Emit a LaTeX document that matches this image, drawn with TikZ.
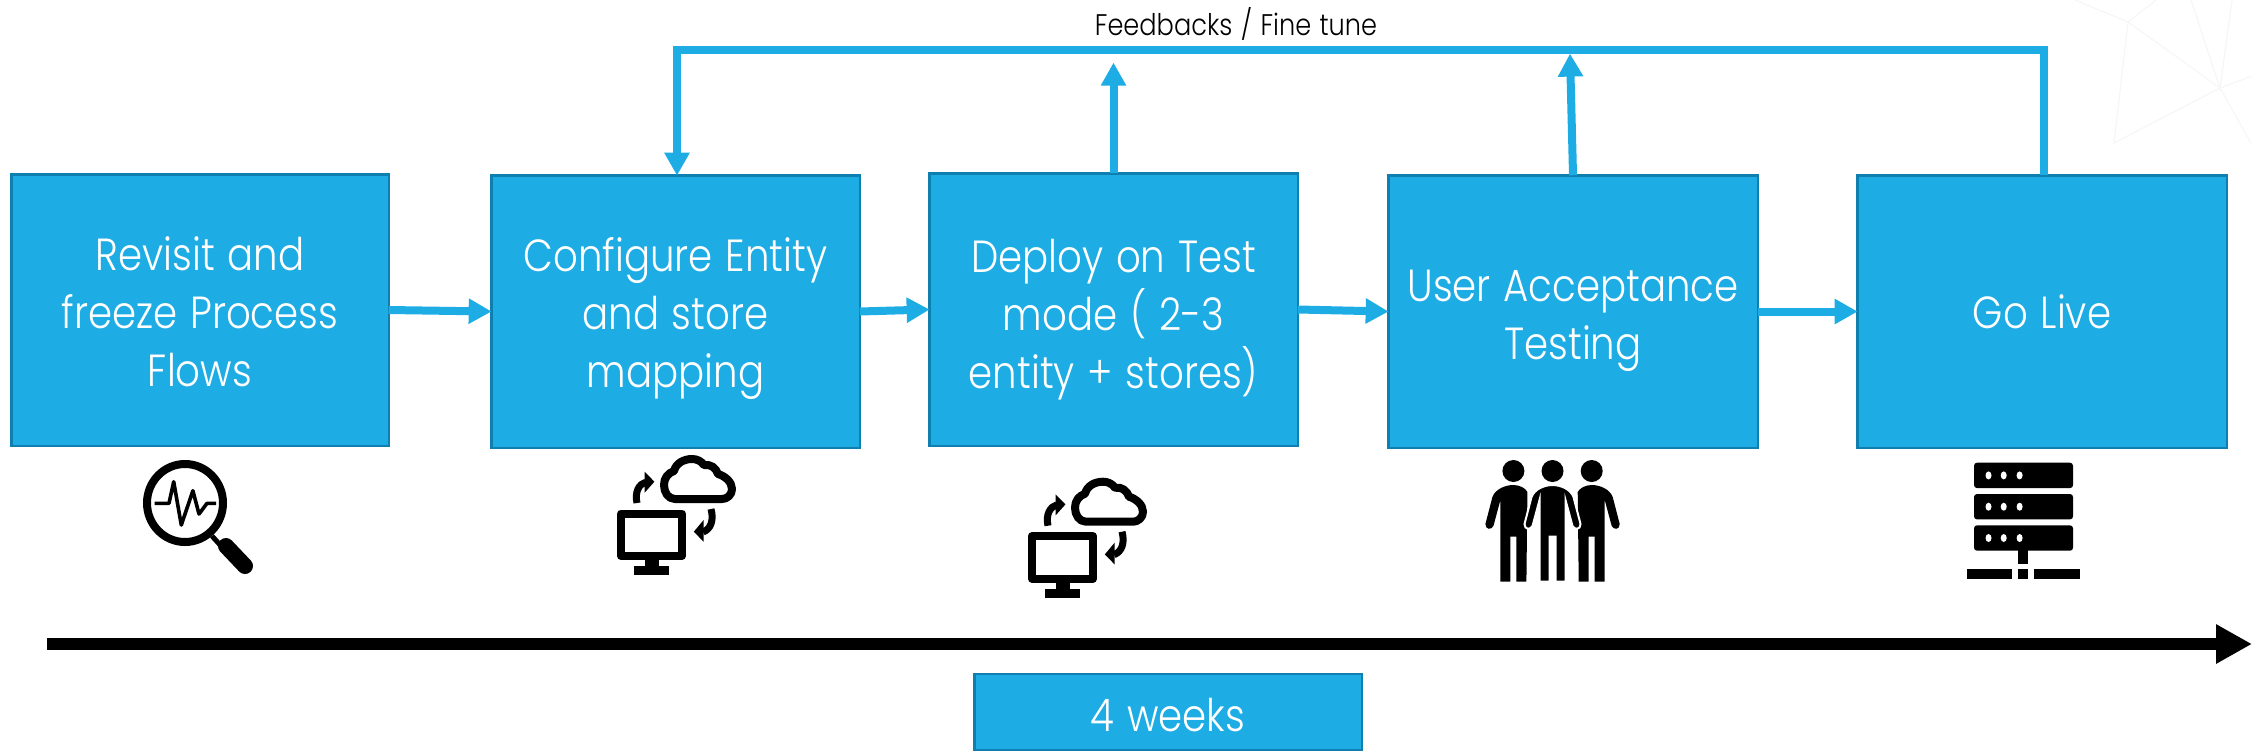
\documentclass[tikz,border=0pt]{standalone}
\usepackage{fontspec}
\setmainfont{Poppins}[UprightFont=* Light,FakeStretch=0.86,WordSpace=1.2]
\usetikzlibrary{arrows.meta,calc}
\definecolor{boxfill}{HTML}{1EACE4}
\definecolor{boxline}{HTML}{0F7FAF}
\definecolor{faint}{HTML}{F6F6F6}
\newcommand{\dropby}[1]{\rule{0pt}{\dimexpr 16.6pt+2\dimexpr #1\relax\relax}}
\tikzset{
  x=0.5pt,y=-0.5pt,
  stagebox/.style={draw=boxline,fill=boxfill,line width=1.25pt,outer sep=0pt,inner sep=0pt,
    text=white,align=center,font=\fontsize{22.5}{29}\selectfont},
  flow/.style={draw=boxfill,line width=4pt,-{Triangle[length=11.5pt,width=12pt]},shorten >=-0.2pt},
  fback/.style={draw=boxfill,line width=4pt,miter limit=10},
  timeline/.style={draw=black,line width=6pt,-{Triangle[length=18pt,width=18.5pt]}},
  cloudpc/.pic={
    \draw[line width=4pt,line join=round]
      (675,499) .. controls (668,499) and (664,492) .. (664,485)
      .. controls (664,478) and (668,473) .. (674,471)
      .. controls (676,463) and (684,459) .. (692,459)
      .. controls (697,459) and (701,461) .. (704,465)
      .. controls (711,464) and (716,468) .. (718,474)
      .. controls (725,476) and (732,482) .. (732,489)
      .. controls (732,495) and (727,499) .. (722,499) -- cycle;
    \draw[line width=4pt,line join=round] (621,513.5) rectangle (682,556);
    \fill (645,560) rectangle (659,566);
    \fill (634,566) rectangle (669,575);
    \draw[line width=3.5pt] (637,503) .. controls (634.5,492) and (639,484) .. (646,482);
    \fill (644.6,471.7) -- (654.4,481.7) -- (644.6,492.7) -- cycle;
    \draw[line width=3.5pt] (711,509) .. controls (714,520) and (711,529) .. (703,532);
    \fill (703.6,520) -- (693.8,531.7) -- (703.6,541.7) -- cycle;
  },
  personfull/.pic={
    \path[pic actions]
      (-21,497) .. controls (-18,489) and (-8,485) .. (0,485)
      .. controls (8,485) and (18,489) .. (21,497)
      -- (28,524) .. controls (28,530) and (22,530) .. (20,526)
      -- (13,500) -- (13,581.7) -- (3,581.7) -- (3,536.7) -- (-3,536.7)
      -- (-3,581.7) -- (-13,581.7) -- (-13,500) -- (-20,526)
      .. controls (-22,530) and (-28,530) .. (-28,524) -- cycle;
    \fill (0,471) ellipse [x radius=11,y radius=11];
  },
  personleft/.pic={
    \fill (-21,497) .. controls (-18,489) and (-8,485) .. (0,485)
      .. controls (6,485) and (12,488) .. (14,492)
      -- (13,581.7) -- (3,581.7) -- (3,536.7) -- (-3,536.7)
      -- (-3,581.7) -- (-13,581.7) -- (-13,500) -- (-20,526)
      .. controls (-22,530) and (-28,530) .. (-28,524) -- cycle;
    \fill (0,471) ellipse [x radius=11,y radius=11];
  },
  serverunit/.pic={
    \fill[rounded corners=1.5pt] (1974,0) rectangle (2073,25.4);
    \fill[white] (1988.5,12.7) ellipse [x radius=3,y radius=4]
                 (2003.7,12.7) ellipse [x radius=3,y radius=4]
                 (2019.6,12.7) ellipse [x radius=3,y radius=4];
  },
}
\begin{document}
\begin{tikzpicture}
\useasboundingbox (0,0) rectangle (2252,751);
% faint background
\draw[faint,line width=0.6pt] (2075,0) -- (2128,22) -- (2156,0)
  (2128,22) -- (2220,88) -- (2114,143) -- (2128,22)
  (2191,0) -- (2220,88) -- (2232,0)
  (2252,76) -- (2220,88) -- (2252,145);
% boxes
\node[stagebox,minimum width=188.75pt,minimum height=135.75pt] (b1) at (200,310) {\dropby{1pt}Revisit and\\freeze Process\\Flows};
\node[stagebox,minimum width=184.25pt,minimum height=136.25pt] (b2) at (675.5,311.5) {\dropby{3.5pt}Configure Entity\\and store\\mapping};
\node[stagebox,minimum width=184.25pt,minimum height=136.25pt] (b3) at (1113.5,309.5) {\dropby{5pt}Deploy on Test\\mode ( 2-3\\entity + stores)};
\node[stagebox,minimum width=184.75pt,minimum height=136.25pt] (b4) at (1573,311.5) {\dropby{4pt}User Acceptance\\Testing};
\node[stagebox,minimum width=184.75pt,minimum height=136.25pt] (b5) at (2042,311.5) {Go Live};
\node[stagebox,minimum width=193.75pt,minimum height=38pt] (weeks) at (1168,712) {\dropby{1.5pt}4 weeks};
\node[font=\fontsize{14.9}{18}\selectfont,text=black,inner sep=0pt] (fbl) at (1236,24) {Feedbacks / Fine tune};
% flow arrows
\draw[flow] (b1.east) -- (b2.west);
\draw[flow] (b2.east) -- (b3.west);
\draw[flow] (b3.east) -- (b4.west);
\draw[flow] (b4.east) -- (b5.west);
% feedback loop
\coordinate (fbR) at (2044,50);
\coordinate (fbL) at (677,50);
\coordinate (fbC) at (677,46);
\coordinate (tipA) at (1113.5,63);
\coordinate (tipB) at (1570,54);
\draw[fback] (fbR |- b5.north) -- (fbR) -- (fbL);
\draw[flow] (fbC) -- (fbC |- b2.north);
\draw[flow] (b3.north) -- (tipA);
\draw[flow] (b4.north) -- (tipB);
% time line
\coordinate (tlA) at (47,644);
\coordinate (tlB) at (2252,644);
\draw[timeline] (tlA) -- (tlB);
% magnifier
\draw[line width=4pt] (185,503) ellipse [x radius=38,y radius=39];
\draw[line width=1.8pt,line join=round] (154.5,503.3) -- (169,503.3) -- (173.7,481.7) -- (181.3,525)
  -- (192.9,490.7) -- (199,514) -- (207,503.3) -- (216,503.3);
\draw[line width=2.5pt] (212,536) -- (222,547);
\draw[line width=8pt,line cap=round] (226,546) -- (245,566);
% computer + cloud icons
\pic at (0,0) {cloudpc};
\pic at (411,22.7) {cloudpc};
% people
\pic at (1513.4,0) {personleft};
\pic[xscale=-1] at (1591.7,0) {personleft};
\pic[fill=black,draw=white,line width=1pt] at (1552.5,0) {personfull};
% server
\pic at (0,462.7) {serverunit};
\pic at (0,494) {serverunit};
\pic at (0,525.3) {serverunit};
\fill (2018,550) rectangle (2027.6,564);
\fill (1967,569) rectangle (2011.7,579);
\fill (2018,569) rectangle (2027.6,579);
\fill (2034,569) rectangle (2080,579);
\end{tikzpicture}
\end{document}
